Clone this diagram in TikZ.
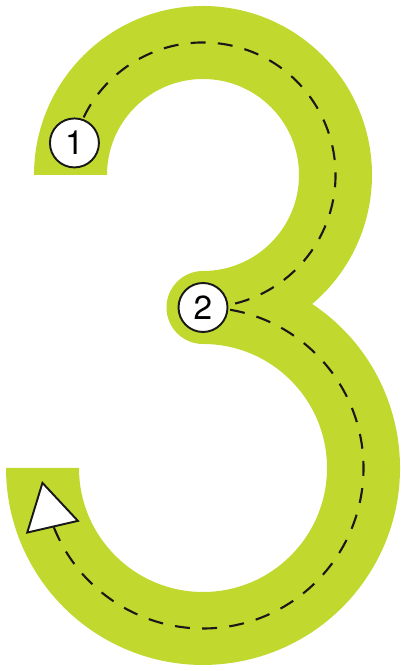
\documentclass[tikz,border=0pt]{standalone}
\usepackage{fontspec}
\setsansfont{TeX Gyre Heros}
\usepackage{xcolor}
\usepackage{tikz}
\usetikzlibrary{shapes.geometric}

\definecolor{limegreen}{RGB}{193,216,47}

\begin{document}
\begin{tikzpicture}[
  x=0.02cm, y=0.02cm,
  digit/.style   = {fill=limegreen},
  guide/.style   = {draw=black!90, line width=1.2pt, dash pattern=on 8.5pt off 7pt},
  stopnode/.style = {circle, draw=black!90, fill=white, line width=1.1pt,
                    minimum size=0.98cm, inner sep=0pt,
                    font=\sffamily\fontsize{19}{20}\selectfont},
  arrowhead/.style = {regular polygon, regular polygon sides=3, draw=black!90,
                    fill=white, line width=1.1pt, minimum size=1.2cm, inner sep=0pt},
]

\useasboundingbox (0,0) rectangle (401,671);

% centres of the two bowls
\coordinate (top) at (203,496);
\coordinate (bot) at (203,203);
\coordinate (p1) at ([shift={(top)}]166:132.5);
\coordinate (p2) at (203,363.5);

% the stroke of the 3
\fill[digit] (34,496) arc[start angle=180, end angle=-49.75, radius=169]
  arc[start angle=56.34, end angle=-180, radius=197]
  -- (79,203)
  arc[start angle=180, end angle=450, radius=124]
  arc[start angle=270, end angle=90, radius=36.5]
  arc[start angle=-90, end angle=180, radius=96] -- cycle;

% tracing line
\draw[guide] (p1) arc[start angle=166, end angle=-90, radius=132.5];
\draw[guide] (p2) arc[start angle=90, end angle=-159, radius=160.5];

\node[stopnode] (n1) at (p1) {1};
\node[stopnode] (n2) at (p2) {2};
\node[arrowhead, rotate=13] (tip) at ([shift={(bot)}]196:160) {};

\end{tikzpicture}
\end{document}
